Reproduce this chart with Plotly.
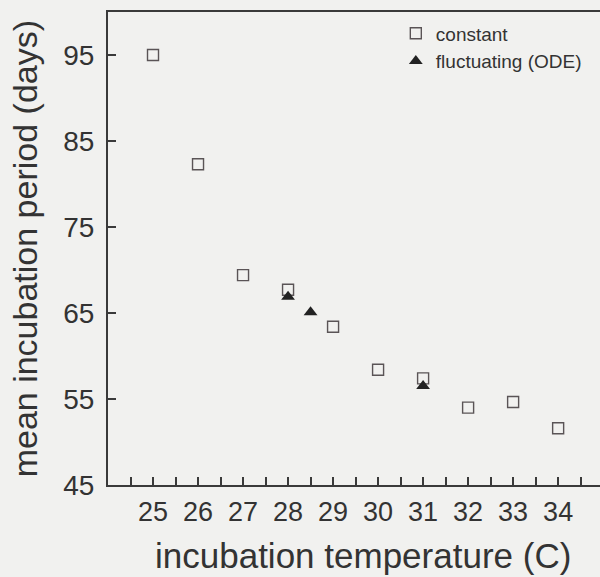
import plotly.graph_objects as go

# Data
const_temp = [25, 26, 27, 28, 29, 30, 31, 32, 33, 34]
const_days = [95.0, 82.3, 69.4, 67.7, 63.4, 58.4, 57.4, 54.0, 54.65, 51.6]

fluct_temp = [28, 28.5, 31]
fluct_days = [66.9, 65.1, 56.5]

x_tickvals = [25, 26, 27, 28, 29, 30, 31, 32, 33, 34]
x_minor = [24.5, 25.5, 26.5, 27.5, 28.5, 29.5, 30.5, 31.5, 32.5, 33.5, 34.5]
y_tickvals = [45, 55, 65, 75, 85, 95]

FONT = "Liberation Sans, Arial, Helvetica, sans-serif"
INK = "#333333"
BG = "#f1f1ef"

fig = go.Figure()
fig.add_trace(go.Scatter(
    x=const_temp, y=const_days, mode="markers", name="constant",
    marker=dict(symbol="square-open", size=11, color="#5a5456",
                line=dict(width=1.4, color="#5a5456")),
))
fig.add_trace(go.Scatter(
    x=fluct_temp, y=fluct_days, mode="markers", name="fluctuating (ODE)",
    marker=dict(symbol="triangle-up", size=12, color="#222222"),
))

fig.update_layout(
    width=600, height=577,
    margin=dict(l=108, r=0, t=12, b=92),
    paper_bgcolor=BG, plot_bgcolor=BG,
    font=dict(family=FONT, color=INK),
    showlegend=True,
    legend=dict(x=0.585, y=0.995, xanchor="left", yanchor="top",
                bgcolor="rgba(0,0,0,0)", font=dict(size=19, color=INK),
                tracegroupgap=0, itemsizing="trace"),
    xaxis=dict(
        range=[24, 34.93], showgrid=False, zeroline=False,
        showline=True, linecolor="#3a3a3a", linewidth=2, mirror=True,
        tickmode="array", tickvals=x_tickvals,
        ticktext=[str(v) for v in x_tickvals],
        ticks="inside", ticklen=8, tickwidth=1.5, tickcolor="#3a3a3a",
        tickfont=dict(size=27, color=INK), ticklabelstandoff=2,
        minor=dict(tickmode="array", tickvals=x_minor, ticks="inside",
                   ticklen=8, tickwidth=1.5, tickcolor="#3a3a3a"),
    ),
    yaxis=dict(
        range=[45, 100], showgrid=False, zeroline=False,
        showline=True, linecolor="#3a3a3a", linewidth=2, mirror=False,
        tickmode="array", tickvals=y_tickvals,
        ticktext=[str(v) for v in y_tickvals],
        ticks="inside", ticklen=8, tickwidth=1.5, tickcolor="#3a3a3a",
        tickfont=dict(size=28, color=INK), ticklabelstandoff=6,
    ),
    annotations=[
        dict(text="incubation temperature (C)", xref="paper", yref="paper",
             x=0.518, y=-0.148, xanchor="center", yanchor="middle",
             showarrow=False, font=dict(size=35, color=INK, family=FONT)),
        dict(text="mean incubation period (days)", xref="paper", yref="paper",
             x=-0.169, y=0.5, xanchor="center", yanchor="middle", textangle=-90,
             showarrow=False, font=dict(size=34, color=INK, family=FONT)),
    ],
)

fig.write_html(
    "out.html",
    config={"displayModeBar": False},
    post_script="document.body.style.margin='0';document.body.style.background='%s';" % BG,
)
